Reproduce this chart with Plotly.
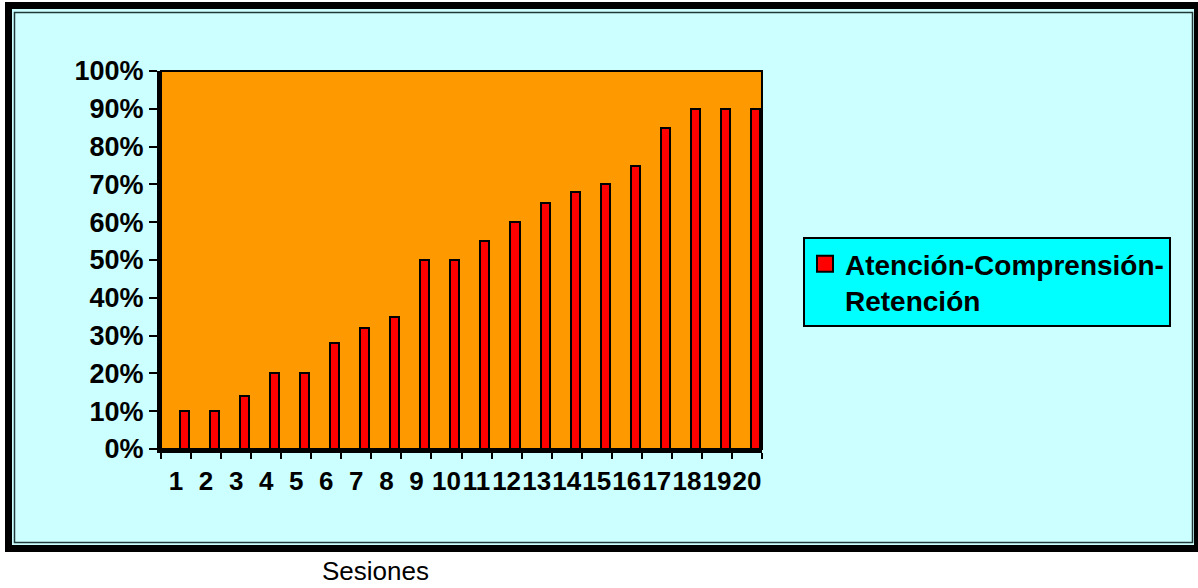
import plotly.graph_objects as go

sessions = [str(i) for i in range(1, 21)]
values = [0.10, 0.10, 0.14, 0.20, 0.20, 0.28, 0.32, 0.35, 0.50, 0.50,
          0.55, 0.60, 0.65, 0.68, 0.70, 0.75, 0.85, 0.90, 0.90, 0.90]
series_name = "Atención-Comprensión-<br>Retención"
x_title = "Sesiones"

W, H = 1198, 588
L, R, T, B = 161, 762, 71, 449  # plot area in px


def px(x):
    return (x - L) / (R - L)


def py(y):
    return (B - y) / (B - T)


FONT = "Liberation Sans, Arial, sans-serif"

fig = go.Figure()
fig.add_trace(go.Bar(
    x=sessions, y=values, name=series_name,
    marker=dict(color="#FF0000", line=dict(color="black", width=2)),
    width=0.3, offset=0.13,
    showlegend=False,
))
# legend entry (square swatch as in the original)
fig.add_trace(go.Scatter(
    x=[None], y=[None], name=series_name, mode="markers",
    marker=dict(symbol="square", size=18, color="#FF0000",
                line=dict(color="black", width=2)),
    showlegend=True, hoverinfo="skip",
))

shapes = [
    dict(type="rect", xref="paper", yref="paper", layer="below",
         x0=px(5), x1=px(1210), y0=py(552), y1=py(2),
         fillcolor="black", line=dict(width=0)),
    dict(type="rect", xref="paper", yref="paper", layer="below",
         x0=px(12), x1=px(1194), y0=py(545), y1=py(9),
         fillcolor="#CCFFFF", line=dict(width=0)),
    dict(type="rect", xref="paper", yref="paper", layer="below",
         x0=px(14.5), x1=px(1192.5), y0=py(542.5), y1=py(12.5),
         fillcolor="rgba(0,0,0,0)", line=dict(color="#203838", width=1.5)),
    dict(type="rect", xref="paper", yref="paper", layer="below",
         x0=0, x1=1, y0=0, y1=1,
         fillcolor="#FF9900", line=dict(color="black", width=2)),
]

fig.update_layout(
    width=W, height=H,
    margin=dict(l=L, r=W - R, t=T, b=H - B, pad=0),
    paper_bgcolor="white",
    plot_bgcolor="rgba(0,0,0,0)",
    shapes=shapes,
    bargap=0,
    font=dict(family=FONT, color="black"),
    xaxis=dict(
        type="category", tickson="boundaries", ticks="outside",
        ticklen=6, tickwidth=2, tickcolor="black",
        showline=True, linewidth=4, linecolor="black",
        showgrid=False, tickangle=0, dtick=1, ticklabelstandoff=6,
        tickfont=dict(family=FONT, size=26, weight="bold", color="black"),
        range=[-0.5, 19.5],
    ),
    yaxis=dict(
        range=[0, 1], dtick=0.1, tickformat=".0%",
        ticks="outside", ticklen=8, tickwidth=2, tickcolor="black",
        showline=True, linewidth=4, linecolor="black",
        showgrid=False, zeroline=False,
        tickfont=dict(family=FONT, size=27, weight="bold", color="black"),
    ),
    legend=dict(
        x=px(803), y=py(237), xanchor="left", yanchor="top",
        bgcolor="#00FFFF", bordercolor="black", borderwidth=2,
        valign="top", itemwidth=30,
        font=dict(family=FONT, size=28, weight="bold", color="black"),
    ),
    annotations=[
        dict(text=x_title, xref="paper", yref="paper",
             x=px(375), y=py(571), xanchor="center", yanchor="middle",
             showarrow=False,
             font=dict(family=FONT, size=26, color="black")),
    ],
)

fig.write_html("out.html", config={"displayModeBar": False},
               post_script="document.body.style.margin='0';")
